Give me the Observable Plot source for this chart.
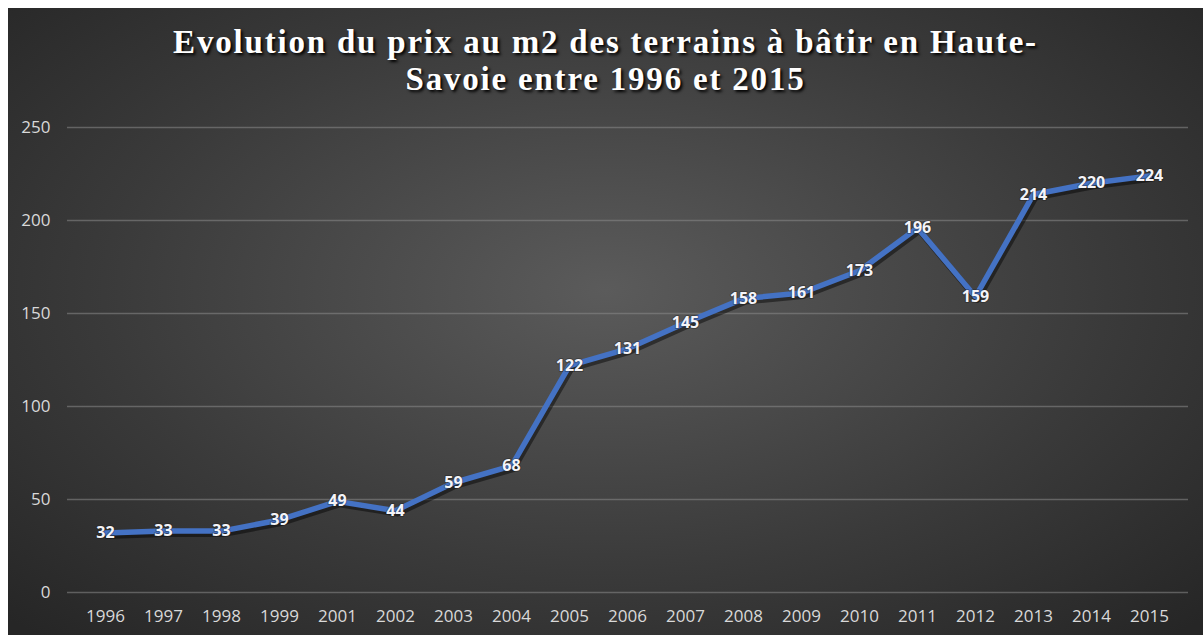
<!DOCTYPE html>
<html><head><meta charset="utf-8">
<script src="https://cdn.jsdelivr.net/npm/d3@7"></script>
<script src="https://cdn.jsdelivr.net/npm/@observablehq/plot@0.6"></script>
<style>
html,body{margin:0;padding:0;background:#fff;}
#wrap{position:absolute;left:8px;top:8px;width:1195px;height:627px;overflow:hidden;
background:radial-gradient(ellipse 70% 75% at 50% 45%, #5b5b5b 0%, #3a3a3a 60%, #262626 100%);}
#title{height:92px;box-sizing:border-box;padding-top:16px;text-align:center;color:#fff;
font-family:"Liberation Serif","Times New Roman",serif;font-weight:bold;font-size:33px;line-height:37px;letter-spacing:1.8px;
text-shadow:2px 2px 3px #000;}
#chart svg{display:block;background:transparent;}
</style></head><body>
<div id="wrap"><div id="title">Evolution du prix au m2 des terrains à bâtir en Haute-<br>Savoie entre 1996 et 2015</div><div id="chart"></div></div>
<script>
const years = ["1996","1997","1998","1999","2001","2002","2003","2004","2005","2006","2007","2008","2009","2010","2011","2012","2013","2014","2015"];
const prices = [32,33,33,39,49,44,59,68,122,131,145,158,161,173,196,159,214,220,224];
const yTicks = [0,50,100,150,200,250];
const data = years.map((y,i)=>({year:y, price:prices[i]}));

const chart = Plot.plot({
  width:1195, height:535,
  marginTop:27, marginBottom:43, marginLeft:59, marginRight:15,
  style:{background:"transparent", color:"#d9d9d9", fontFamily:"'Open Sans', sans-serif", fontSize:"17px"},
  x:{type:"band", domain:years, label:null},
  y:{domain:[0,250], label:null},
  marks:[
    Plot.gridY(yTicks,{stroke:"#8a8a8a", strokeOpacity:0.55, strokeWidth:1.5}),
    Plot.axisX({tickSize:0, tickPadding:17, fill:"#d9d9d9", fontSize:17}),
    Plot.axisY(yTicks,{tickSize:0, tickPadding:17, fill:"#d9d9d9", fontSize:17}),
    Plot.line(data,{x:"year", y:"price", stroke:"#000", strokeOpacity:0.45, strokeWidth:6, dx:2, dy:3}),
    Plot.line(data,{x:"year", y:"price", stroke:"#4472C4", strokeWidth:5.5, strokeLinejoin:"round"}),
    Plot.text(data,{x:"year", y:"price", text:d=>String(d.price), fill:"#f4f4f8", fontWeight:"bold", fontSize:16,
      stroke:"#1a1a1a", strokeOpacity:0.35, strokeWidth:2})
  ]
});
document.getElementById("chart").appendChild(chart);
</script>
</body></html>
